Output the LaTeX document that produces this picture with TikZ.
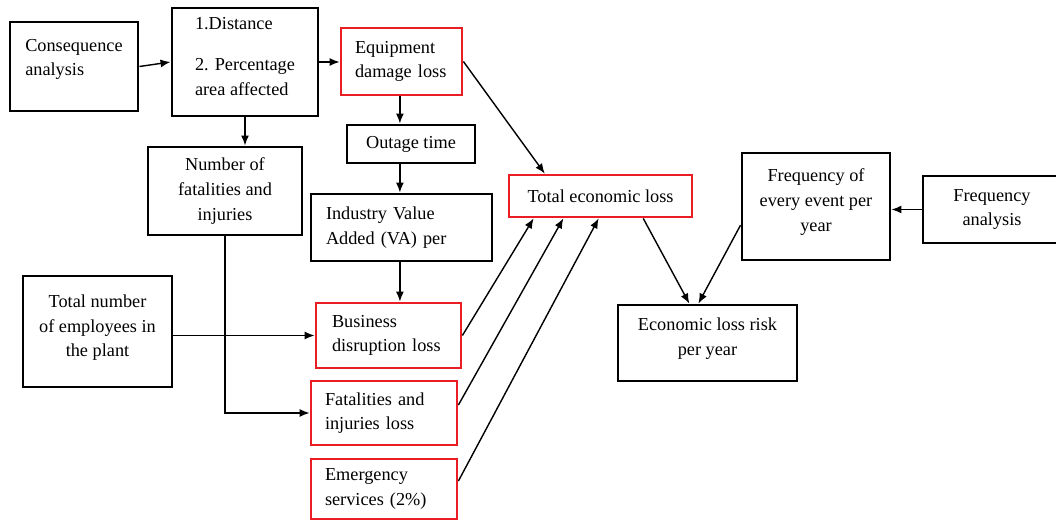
\documentclass[tikz,border=0pt]{standalone}
\usepackage{fontspec}
\setmainfont{Liberation Serif}
\usetikzlibrary{arrows.meta,calc}
\definecolor{lossred}{RGB}{232,30,36}

\begin{document}
\begin{tikzpicture}[x=1cm,y=1cm,
  font=\fontsize{13}{17.5}\selectfont,
  >={Latex[length=2.5mm,width=2mm]},
  blackbox/.style={draw, line width=2.1pt, inner ysep=0pt},
  redbox/.style={draw=lossred, line width=2pt, inner ysep=0pt},
  link/.style={->, line width=1pt}]
\useasboundingbox (0,0) rectangle (26.4,-13);

\node[blackbox, align=left, minimum width=3.2cm, minimum height=2.225cm] (conseq) at (1.85,-1.6625)
{Consequence\\analysis\\[-0.17cm]};
\node[blackbox, align=left, minimum width=3.65cm, minimum height=2.7cm] (dist) at (6.125,-1.55)
{1.Distance\\[0.4cm]2. Percentage\\area affected\\[-0.34cm]};
\node[redbox, align=left, text width=2.325cm, inner xsep=0.35cm, minimum height=1.675cm] (equip) at (10.0375,-1.5375)
{Equipment\\damage loss};
\node[blackbox, align=center, minimum width=3.2cm, minimum height=0.95cm] (outage) at (10.275,-3.6)
{Outage time};
\node[blackbox, align=center, minimum width=3.85cm, minimum height=2.2cm] (nfat) at (5.625,-4.775)
{Number of\\fatalities and\\injuries};
\node[blackbox, align=left, text width=3.775cm, inner xsep=0.375cm, minimum height=1.675cm] (industry) at (10.0375,-5.6875)
{Industry Value\\Added (VA) per};
\node[redbox, align=center, minimum width=4.575cm, minimum height=1.05cm] (total) at (15.0125,-4.9)
{Total economic loss};
\node[blackbox, align=center, minimum width=3.7cm, minimum height=2.675cm] (freqev) at (20.4,-5.1625)
{Frequency of\\every event per\\year\\[-0.29cm]};
\node[blackbox, align=center, minimum width=3.45cm, minimum height=1.675cm] (freqan) at (24.8,-5.2375)
{Frequency\\analysis};
\node[blackbox, align=center, minimum width=3.725cm, minimum height=2.775cm] (employees) at (2.4375,-8.2875)
{Total number\\of employees in\\the plant\\[-0.34cm]};
\node[redbox, align=left, text width=2.825cm, inner xsep=0.4cm, minimum height=1.625cm] (business) at (9.7125,-8.3875)
{Business\\disruption loss};
\node[blackbox, align=center, minimum width=4.475cm, minimum height=1.9cm] (risk) at (17.6875,-8.575)
{Economic loss risk\\per year\\[-0.29cm]};
\node[redbox, align=left, text width=2.95cm, inner xsep=0.35cm, minimum height=1.6cm] (fatloss) at (9.6,-10.325)
{Fatalities and\\injuries loss};
\node[redbox, align=left, text width=2.95cm, inner xsep=0.35cm, minimum height=1.5cm] (emerg) at (9.6,-12.225)
{Emergency\\services (2\%)};

% consequence side
\draw[link] (conseq.east) -- (dist.west);
\draw[link] (dist.east) -- (dist.east -| equip.west);
\draw[link] (dist.south) -- (dist.south |- nfat.north);
\draw[link] ([xshift=-0.04cm]equip.south) -- ([xshift=-0.04cm]equip.south |- outage.north);
\draw[link] ([xshift=-0.04cm]outage.south -| equip.south) -- ([xshift=-0.04cm]industry.north);
\draw[link] ([xshift=-0.04cm]industry.south) -- ([xshift=-0.04cm]industry.south |- business.north);
\draw[link] (employees.east |- business.west) -- (business.west);
\draw[link] (nfat.south) |- (fatloss.west);

% losses into total
\draw[link] (equip.east) -- ($(total.north west)!0.2!(total.north east)$);
\draw[link] (business.east) -- ($(total.south west)!0.14!(total.south east)$);
\draw[link] ([yshift=0.2cm]fatloss.east) -- ($(total.south west)!0.3!(total.south east)$);
\draw[link] ([yshift=0.2cm]emerg.east) -- ($(total.south west)!0.49!(total.south east)$);

% risk
\draw[link] ($(total.south west)!0.73!(total.south east)$) -- ($(risk.north west)!0.4!(risk.north east)$);
\draw[link] ($(freqev.north west)!0.67!(freqev.south west)$) -- ($(risk.north west)!0.45!(risk.north east)$);
\draw[link] (freqan.west) -- (freqan.west -| freqev.east);
\end{tikzpicture}
\end{document}
